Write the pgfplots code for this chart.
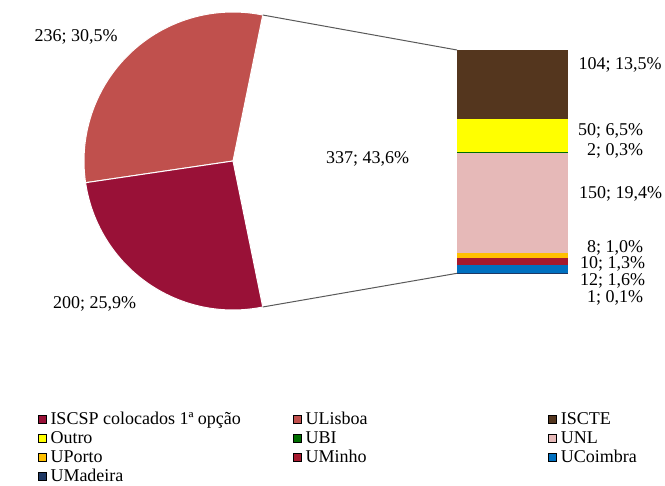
\documentclass[border=0pt]{standalone}
\usepackage{pgfplots}
\pgfplotsset{compat=1.18}
\usepackage{fontspec}
\setmainfont{Liberation Serif}

\definecolor{cISCSP}{RGB}{153,17,55}
\definecolor{cULisboa}{RGB}{192,80,77}
\definecolor{cISCTE}{RGB}{84,54,30}
\definecolor{cOutro}{RGB}{255,255,0}
\definecolor{cUBI}{RGB}{0,110,0}
\definecolor{cUNL}{RGB}{230,185,184}
\definecolor{cUPorto}{RGB}{255,192,0}
\definecolor{cUMinho}{RGB}{166,25,46}
\definecolor{cUCoimbra}{RGB}{0,112,192}
\definecolor{cUMadeira}{RGB}{31,56,100}
\definecolor{conn}{RGB}{89,89,89}

\begin{document}
\fontsize{13.5pt}{16pt}\selectfont
\begin{tikzpicture}[font=\fontsize{13.5pt}{16pt}\selectfont]
% pie values: ISCSP, ULisboa, other (split in the bar)
\def\vISCSP{200}\def\vULisboa{236}\def\vOther{337}
\pgfmathsetmacro{\tot}{\vISCSP+\vULisboa+\vOther}
\pgfmathsetmacro{\aA}{\vOther/\tot*180}
\pgfmathsetmacro{\aB}{\aA+\vULisboa/\tot*360}
\pgfmathsetmacro{\aC}{\aB+\vISCSP/\tot*360}
\def\R{111.75pt}

\begin{axis}[
  at={(0pt,0pt)}, anchor=south west,
  scale only axis, width=498.75pt, height=364.5pt,
  xmin=0, xmax=665, ymin=0, ymax=486, y dir=reverse,
  hide axis, clip=false,
  legend columns=3,
  legend cell align=left,
  legend style={at={(0.0571,0.1507)}, anchor=north west, draw=none, fill=none,
    inner sep=0pt, outer sep=0pt, column sep=0pt, row sep=4.3pt,
    font=\fontsize{13.5pt}{16pt}\selectfont,
    nodes={inner xsep=3pt, inner ysep=0pt, text height=8.5pt, text depth=1.5pt}},
  legend image code/.code={\fill[#1] (0pt,-3pt) rectangle (6pt,3pt);},
]
\path (axis cs:0,0) rectangle (axis cs:665,486);

\fill[white] (axis cs:233,161) -- ++(-\aA:\R) arc[start angle=-\aA, end angle=\aA, radius=\R] -- cycle;
\filldraw[fill=cULisboa, draw=white, line width=0.75pt] (axis cs:233,161) -- ++(\aA:\R) arc[start angle=\aA, end angle=\aB, radius=\R] -- cycle;
\filldraw[fill=cISCSP, draw=white, line width=0.75pt] (axis cs:233,161) -- ++(\aB:\R) arc[start angle=\aB, end angle=\aC, radius=\R] -- cycle;

% connector lines to the bar
\draw[conn, line width=0.75pt] (axis cs:233,161) ++(\aA:\R) -- (axis cs:457,50);
\draw[conn, line width=0.75pt] (axis cs:233,161) ++(-\aA:\R) -- (axis cs:457,273.3);

% pie labels
\node[anchor=base] at (axis cs:76,41) {236; 30,5\%};
\node[anchor=base] at (axis cs:94.5,308) {200; 25,9\%};
\node[anchor=base] at (axis cs:367.5,163) {337; 43,6\%};

% bar labels
\begin{scope}[every node/.style={anchor=base, inner sep=0pt}]
\node at (axis cs:620,69.3) {104; 13,5\%};
\node at (axis cs:610.5,135.3) {50; 6,5\%};
\node at (axis cs:615,155.3) {2; 0,3\%};
\node at (axis cs:620.5,198.7) {150; 19,4\%};
\node at (axis cs:615,252.2) {8; 1,0\%};
\node at (axis cs:612.5,268.8) {10; 1,3\%};
\node at (axis cs:612.5,285.5) {12; 1,6\%};
\node at (axis cs:615,302) {1; 0,1\%};
\end{scope}

\addlegendimage{fill=cISCSP}
\addlegendentry{\makebox[179pt][l]{ISCSP colocados 1ª opção}}
\addlegendimage{fill=cULisboa}
\addlegendentry{\makebox[179pt][l]{ULisboa}}
\addlegendimage{fill=cISCTE}
\addlegendentry{ISCTE}
\addlegendimage{fill=cOutro}
\addlegendentry{Outro}
\addlegendimage{fill=cUBI}
\addlegendentry{UBI}
\addlegendimage{fill=cUNL}
\addlegendentry{UNL}
\addlegendimage{fill=cUPorto}
\addlegendentry{UPorto}
\addlegendimage{fill=cUMinho}
\addlegendentry{UMinho}
\addlegendimage{fill=cUCoimbra}
\addlegendentry{UCoimbra}
\addlegendimage{fill=cUMadeira}
\addlegendentry{UMadeira}
\end{axis}

\begin{axis}[
  at={(342.75pt,159.5pt)}, anchor=south west,
  scale only axis, width=83.25pt, height=167.5pt,
  xmin=-0.5, xmax=0.5, ymin=0, ymax=337,
  hide axis, ybar stacked, bar width=1,
]
\addplot[fill=cUMadeira, draw=none] coordinates {(0,1)};
\addplot[fill=cUCoimbra, draw=none] coordinates {(0,12)};
\addplot[fill=cUMinho, draw=none] coordinates {(0,10)};
\addplot[fill=cUPorto, draw=none] coordinates {(0,8)};
\addplot[fill=cUNL, draw=none] coordinates {(0,150)};
\addplot[fill=cUBI, draw=none] coordinates {(0,2)};
\addplot[fill=cOutro, draw=none] coordinates {(0,50)};
\addplot[fill=cISCTE, draw=none] coordinates {(0,104)};
\end{axis}
\pgfresetboundingbox
\useasboundingbox (0pt,0pt) rectangle (498.75pt,364.5pt);
\end{tikzpicture}
\end{document}
